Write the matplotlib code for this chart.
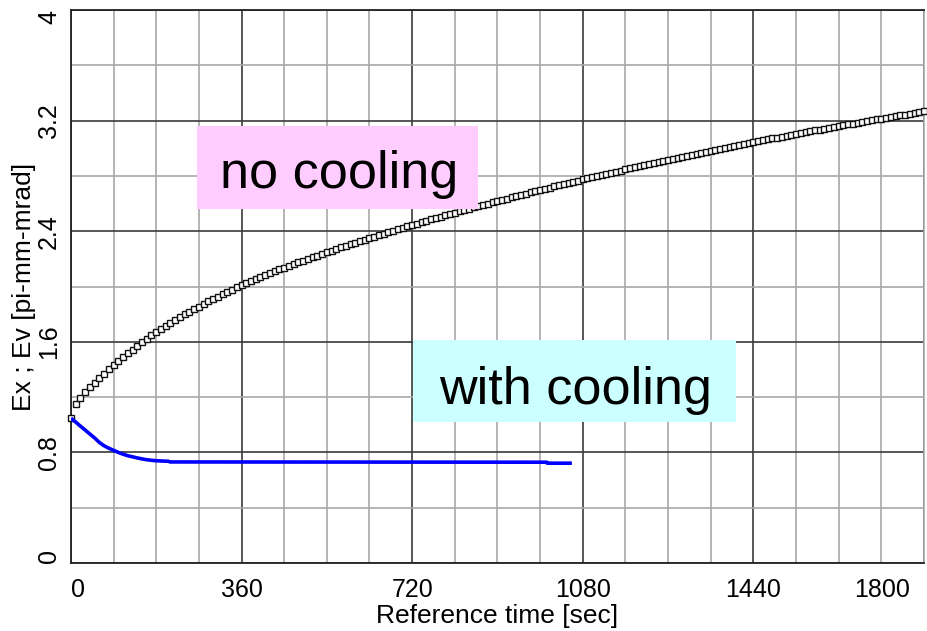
import matplotlib
matplotlib.use("Agg")
import matplotlib.pyplot as plt
from matplotlib.patches import Rectangle
from matplotlib.transforms import ScaledTranslation
import numpy as np

plt.rcParams['font.family'] = ['Liberation Sans', 'DejaVu Sans']

# ---- data ----
t_nocool = list(range(0, 1801, 10))
v_nocool = [
    1.050, 1.150, 1.195, 1.235, 1.270, 1.304, 1.337, 1.369, 1.400, 1.430,
    1.459, 1.488, 1.516, 1.543, 1.569, 1.595, 1.621, 1.646, 1.670, 1.693,
    1.715, 1.737, 1.758, 1.778, 1.798, 1.818, 1.837, 1.855, 1.874, 1.892,
    1.909, 1.927, 1.944, 1.961, 1.978, 1.994, 2.010, 2.025, 2.039, 2.054,
    2.068, 2.082, 2.096, 2.109, 2.123, 2.136, 2.149, 2.162, 2.175, 2.187,
    2.200, 2.212, 2.224, 2.236, 2.248, 2.260, 2.271, 2.283, 2.294, 2.306,
    2.317, 2.328, 2.339, 2.350, 2.360, 2.371, 2.382, 2.392, 2.403, 2.413,
    2.424, 2.434, 2.444, 2.454, 2.465, 2.475, 2.485, 2.495, 2.505, 2.514,
    2.524, 2.534, 2.544, 2.553, 2.563, 2.572, 2.582, 2.591, 2.600, 2.609,
    2.618, 2.627, 2.636, 2.645, 2.654, 2.663, 2.672, 2.681, 2.690, 2.698,
    2.707, 2.716, 2.724, 2.733, 2.741, 2.750, 2.758, 2.766, 2.775, 2.783,
    2.791, 2.799, 2.807, 2.815, 2.823, 2.831, 2.839, 2.847, 2.855, 2.862,
    2.870, 2.878, 2.885, 2.893, 2.901, 2.908, 2.916, 2.923, 2.930, 2.938,
    2.945, 2.953, 2.960, 2.967, 2.974, 2.982, 2.989, 2.996, 3.003, 3.010,
    3.017, 3.024, 3.030, 3.037, 3.044, 3.051, 3.057, 3.064, 3.071, 3.077,
    3.084, 3.090, 3.097, 3.103, 3.110, 3.116, 3.122, 3.129, 3.135, 3.141,
    3.147, 3.154, 3.160, 3.166, 3.172, 3.178, 3.184, 3.190, 3.196, 3.202,
    3.208, 3.214, 3.220, 3.226, 3.232, 3.238, 3.244, 3.250, 3.256, 3.261,
    3.267,
]

t_cool = [0, 10, 20, 30, 40, 50, 60, 70, 80, 90, 100, 110, 120, 130, 140,
          150, 160, 175, 190, 205, 210, 1004, 1005, 1057]
v_cool = [1.047, 1.020, 0.990, 0.962, 0.933, 0.905, 0.872, 0.848, 0.830,
          0.815, 0.800, 0.787, 0.776, 0.768, 0.760, 0.753, 0.747, 0.741,
          0.738, 0.736, 0.731, 0.729, 0.722, 0.722]

x_ticks = [0, 360, 720, 1080, 1440, 1800]
x_ticklabels = ["0", "360", "720", "1080", "1440", "1800"]
y_ticks = [0, 0.8, 1.6, 2.4, 3.2, 4.0]
y_ticklabels = ["0", "0.8", "1.6", "2.4", "3.2", "4"]

label_nocool = "no cooling"
label_cool = "with cooling"

# ---- figure ----
fig = plt.figure(figsize=(9.27, 6.31), dpi=100)
ax = fig.add_axes([70.9 / 927, 68 / 631, (924 - 70.9) / 927, (563 - 10) / 631])
ax.set_xlim(0, 1800)
ax.set_ylim(0, 4)

ax.set_xticks(x_ticks)
ax.set_xticks(np.arange(0, 1801, 90), minor=True)
ax.set_yticks(y_ticks)
ax.set_yticks(np.arange(0, 4.01, 0.4), minor=True)
ax.set_xticklabels(x_ticklabels, fontsize=18)
ax.set_yticklabels(y_ticklabels, fontsize=18, rotation=90, va='center')
ax.tick_params(which='both', length=0)
ax.tick_params(axis='x', pad=11)
ax.tick_params(axis='y', pad=7)

ax.grid(which='minor', color='#a8a8a8', linewidth=1.2, zorder=0)
ax.grid(which='major', color='#3a3a3a', linewidth=1.2, zorder=0)
ax.set_axisbelow(True)

for s in ['left', 'bottom', 'top']:
    ax.spines[s].set_color('#222222')
    ax.spines[s].set_linewidth(1.3)
ax.spines['right'].set_color('#a8a8a8')
ax.spines['right'].set_linewidth(1.2)

# adjust edge tick labels
xl = ax.get_xticklabels()
xl[0].set_horizontalalignment('left')
xl[-1].set_horizontalalignment('right')
xl[-1].set_transform(xl[-1].get_transform() + ScaledTranslation(-14 / 100, 0, fig.dpi_scale_trans))
yl = ax.get_yticklabels()
yl[0].set_verticalalignment('bottom')
yl[-1].set_verticalalignment('top')

ax.set_xlabel("Reference time [sec]", fontsize=19, labelpad=1)
ax.set_ylabel("Ex ; Ev [pi-mm-mrad]", fontsize=19, labelpad=1)

# curves
ax.plot(t_nocool, v_nocool, linestyle='none', marker='s', markersize=4.3,
        markerfacecolor='white', markeredgecolor='#111111', markeredgewidth=1.0,
        zorder=3, clip_on=False)
ax.plot(t_cool, v_cool, color='#0000ff', linewidth=2.6, zorder=3,
        solid_capstyle='butt')

# annotation boxes
def px2data(xp, yp):
    return (xp - 70.9) / 0.4739, (563 - yp) / 138.25

x0, y0 = px2data(197, 209)
x1, y1 = px2data(478, 125.5)
ax.add_patch(Rectangle((x0, y0), x1 - x0, y1 - y0, facecolor='#ffccff',
                       edgecolor='none', zorder=5))
tx, ty = px2data(339, 188)
ax.text(tx, ty, label_nocool, fontsize=37.5, ha='center', va='baseline',
        zorder=6, color='black')

x0, y0 = px2data(413, 422)
x1, y1 = px2data(736, 340)
ax.add_patch(Rectangle((x0, y0), x1 - x0, y1 - y0, facecolor='#ccffff',
                       edgecolor='none', zorder=5))
tx, ty = px2data(575, 404)
ax.text(tx, ty, label_cool, fontsize=37.5, ha='center', va='baseline',
        zorder=6, color='black')

fig.savefig("out.png", dpi=100, facecolor='white')
